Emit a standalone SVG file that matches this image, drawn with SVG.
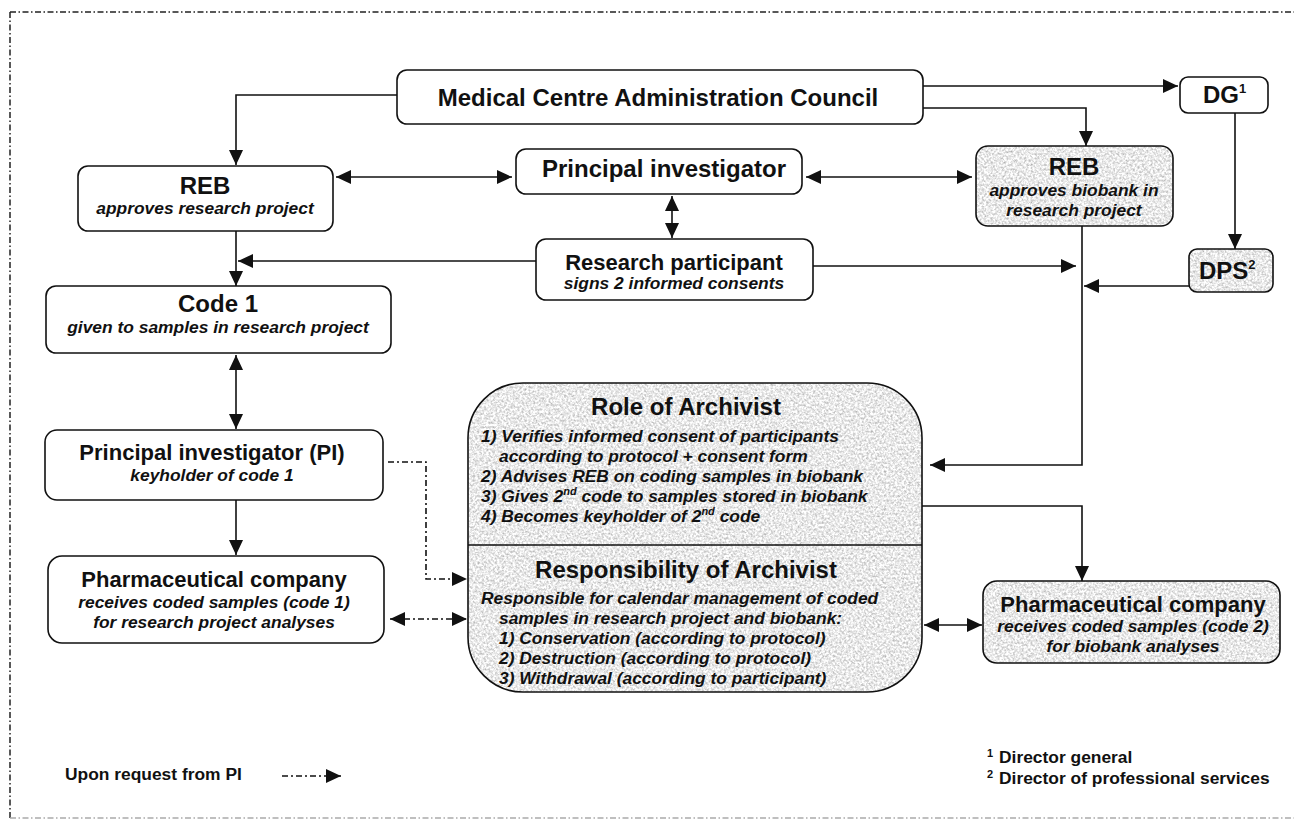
<svg xmlns="http://www.w3.org/2000/svg" width="1294" height="821" viewBox="0 0 1294 821">
<defs>
<style>
text{font-family:"Liberation Sans",Arial,sans-serif;font-weight:bold;fill:#111}
.c{text-anchor:middle}
.t24{font-size:24px}
.t22{font-size:22px}
.it{font-size:17.4px;font-style:italic}
.lg{font-size:17.4px}
.box{fill:#fff;stroke:#111;stroke-width:1.6}
.tex{fill:#000;stroke:none}
.out{fill:none;stroke:#111;stroke-width:1.6}
.ln{fill:none;stroke:#111;stroke-width:1.6}
.dd{fill:none;stroke:#111;stroke-width:1.6;stroke-dasharray:6 3 2 3}
.border{fill:none;stroke:#222;stroke-width:1.5;stroke-dasharray:6 2.5 1.5 2.5}
</style>
<filter id="noise" x="0" y="0" width="100%" height="100%" color-interpolation-filters="sRGB">
<feTurbulence type="fractalNoise" baseFrequency="0.45" numOctaves="3" seed="7"/>
<feColorMatrix type="matrix" values="0.55 0 0 0 0.64  0.55 0 0 0 0.64  0.55 0 0 0 0.64  0 0 0 0 1"/>
<feComposite in2="SourceGraphic" operator="in"/>
</filter>
<marker id="ah" viewBox="0 0 15 14" refX="15" refY="7" markerWidth="15" markerHeight="14" markerUnits="userSpaceOnUse" orient="auto-start-reverse">
<path d="M0,0 L15,7 L0,14 z" fill="#111"/>
</marker>
</defs>
<rect width="1294" height="821" fill="#fff"/>
<g id="frame">
<path class="border" d="M10,12 H1294"/>
<path class="border" d="M10,12 V818"/>
<path class="border" d="M10,818 H1294" style="stroke:#aaa"/>
</g>
<g id="connectors">
<path class="ln" d="M397,95 H236 V165" marker-end="url(#ah)"/>
<path class="ln" d="M236,231 V286" marker-end="url(#ah)"/>
<path class="ln" d="M536,261 H238" marker-end="url(#ah)"/>
<path class="ln" d="M813,266 H1076" marker-end="url(#ah)"/>
<path class="ln" d="M336,177 H512" marker-start="url(#ah)" marker-end="url(#ah)"/>
<path class="ln" d="M806,177 H972" marker-start="url(#ah)" marker-end="url(#ah)"/>
<path class="ln" d="M672,196 V238" marker-start="url(#ah)" marker-end="url(#ah)"/>
<path class="ln" d="M923,108 H1086 V146" marker-end="url(#ah)"/>
<path class="ln" d="M923,86 H1178" marker-end="url(#ah)"/>
<path class="ln" d="M1235,113 V249" marker-end="url(#ah)"/>
<path class="ln" d="M1189,286 H1084" marker-end="url(#ah)"/>
<path class="ln" d="M1082,226 V465 H930" marker-end="url(#ah)"/>
<path class="ln" d="M922,506 H1082 V581" marker-end="url(#ah)"/>
<path class="ln" d="M924,625 H982" marker-start="url(#ah)" marker-end="url(#ah)"/>
<path class="ln" d="M236,355 V429" marker-start="url(#ah)" marker-end="url(#ah)"/>
<path class="ln" d="M236,500 V555" marker-end="url(#ah)"/>
<path class="dd" d="M388,462 H426 V579 H467" marker-end="url(#ah)"/>
<path class="dd" d="M390,619 H467" marker-start="url(#ah)" marker-end="url(#ah)"/>
</g>
<g id="council">
<rect class="box" x="397" y="70" width="526" height="54" rx="10"/>
<text class="c t24" x="658" y="106">Medical Centre Administration Council</text>
</g>
<g id="reb-project">
<rect class="box" x="78" y="166" width="255" height="65" rx="10"/>
<text class="c t24" x="205" y="194">REB</text>
<text class="c it" x="205" y="214">approves research project</text>
</g>
<g id="pi-top">
<rect class="box" x="516" y="149" width="286" height="45" rx="10"/>
<text class="c t24" x="664" y="177">Principal investigator</text>
</g>
<g id="reb-biobank">
<rect class="tex" x="976" y="146" width="197" height="80" rx="12" filter="url(#noise)"/>
<rect class="out" x="976" y="146" width="197" height="80" rx="12"/>
<text class="c t24" x="1074" y="175">REB</text>
<text class="c it" x="1074" y="196">approves biobank in</text>
<text class="c it" x="1074" y="216">research project</text>
</g>
<g id="dg">
<rect class="box" x="1180" y="77" width="88" height="36" rx="8"/>
<text class="t24" x="1203" y="103">DG<tspan font-size="13" dy="-10">1</tspan></text>
</g>
<g id="dps">
<rect class="tex" x="1189" y="249" width="84" height="43" rx="8" filter="url(#noise)"/>
<rect class="out" x="1189" y="249" width="84" height="43" rx="8"/>
<text class="t24" x="1199" y="279">DPS<tspan font-size="13" dy="-10">2</tspan></text>
</g>
<g id="participant">
<rect class="box" x="536" y="239" width="277" height="61" rx="10"/>
<text class="c t22" x="674" y="270">Research participant</text>
<text class="c it" x="674" y="289">signs 2 informed consents</text>
</g>
<g id="code1">
<rect class="box" x="46" y="286" width="345" height="67" rx="10"/>
<text class="c t24" x="218" y="312">Code 1</text>
<text class="c it" x="218" y="333">given to samples in research project</text>
</g>
<g id="pi-keyholder">
<rect class="box" x="45" y="430" width="338" height="70" rx="12"/>
<text class="c t22" x="212" y="460">Principal investigator (PI)</text>
<text class="c it" x="212" y="481">keyholder of code 1</text>
</g>
<g id="pharma-1">
<rect class="box" x="48" y="556" width="336" height="87" rx="14"/>
<text class="c t22" x="214" y="587">Pharmaceutical company</text>
<text class="c it" x="214" y="608">receives coded samples (code 1)</text>
<text class="c it" x="214" y="628">for research project analyses</text>
</g>
<g id="archivist">
<rect class="tex" x="468" y="383" width="454" height="309" rx="55" filter="url(#noise)"/>
<rect class="out" x="468" y="383" width="454" height="309" rx="55"/>
<path class="ln" d="M468,545 H922"/>
<text class="c t24" x="686" y="415">Role of Archivist</text>
<text class="it" x="481" y="442">1) Verifies informed consent of participants</text>
<text class="it" x="499" y="462">according to protocol + consent form</text>
<text class="it" x="481" y="482">2) Advises REB on coding samples in biobank</text>
<text class="it" x="481" y="502">3) Gives 2<tspan font-size="11" dy="-7">nd</tspan><tspan dy="7"> code to samples stored in biobank</tspan></text>
<text class="it" x="481" y="522">4) Becomes keyholder of 2<tspan font-size="11" dy="-7">nd</tspan><tspan dy="7"> code</tspan></text>
<text class="c t24" x="686" y="578">Responsibility of Archivist</text>
<text class="it" x="481" y="604">Responsible for calendar management of coded</text>
<text class="it" x="499" y="624">samples in research project and biobank:</text>
<text class="it" x="499" y="644">1) Conservation (according to protocol)</text>
<text class="it" x="499" y="664">2) Destruction (according to protocol)</text>
<text class="it" x="499" y="684">3) Withdrawal (according to participant)</text>
</g>
<g id="pharma-2">
<rect class="tex" x="983" y="581" width="297" height="82" rx="14" filter="url(#noise)"/>
<rect class="out" x="983" y="581" width="297" height="82" rx="14"/>
<text class="c t22" x="1133" y="612">Pharmaceutical company</text>
<text class="c it" x="1133" y="632">receives coded samples (code 2)</text>
<text class="c it" x="1133" y="652">for biobank analyses</text>
</g>
<g id="legend">
<text class="lg" x="65" y="780">Upon request from PI</text>
<path class="dd" d="M282,776 H341" marker-end="url(#ah)"/>
</g>
<g id="footnotes">
<text x="987" y="757" font-size="11">1</text>
<text class="lg" x="999" y="763">Director general</text>
<text x="987" y="778" font-size="11">2</text>
<text class="lg" x="999" y="784">Director of professional services</text>
</g>
</svg>
